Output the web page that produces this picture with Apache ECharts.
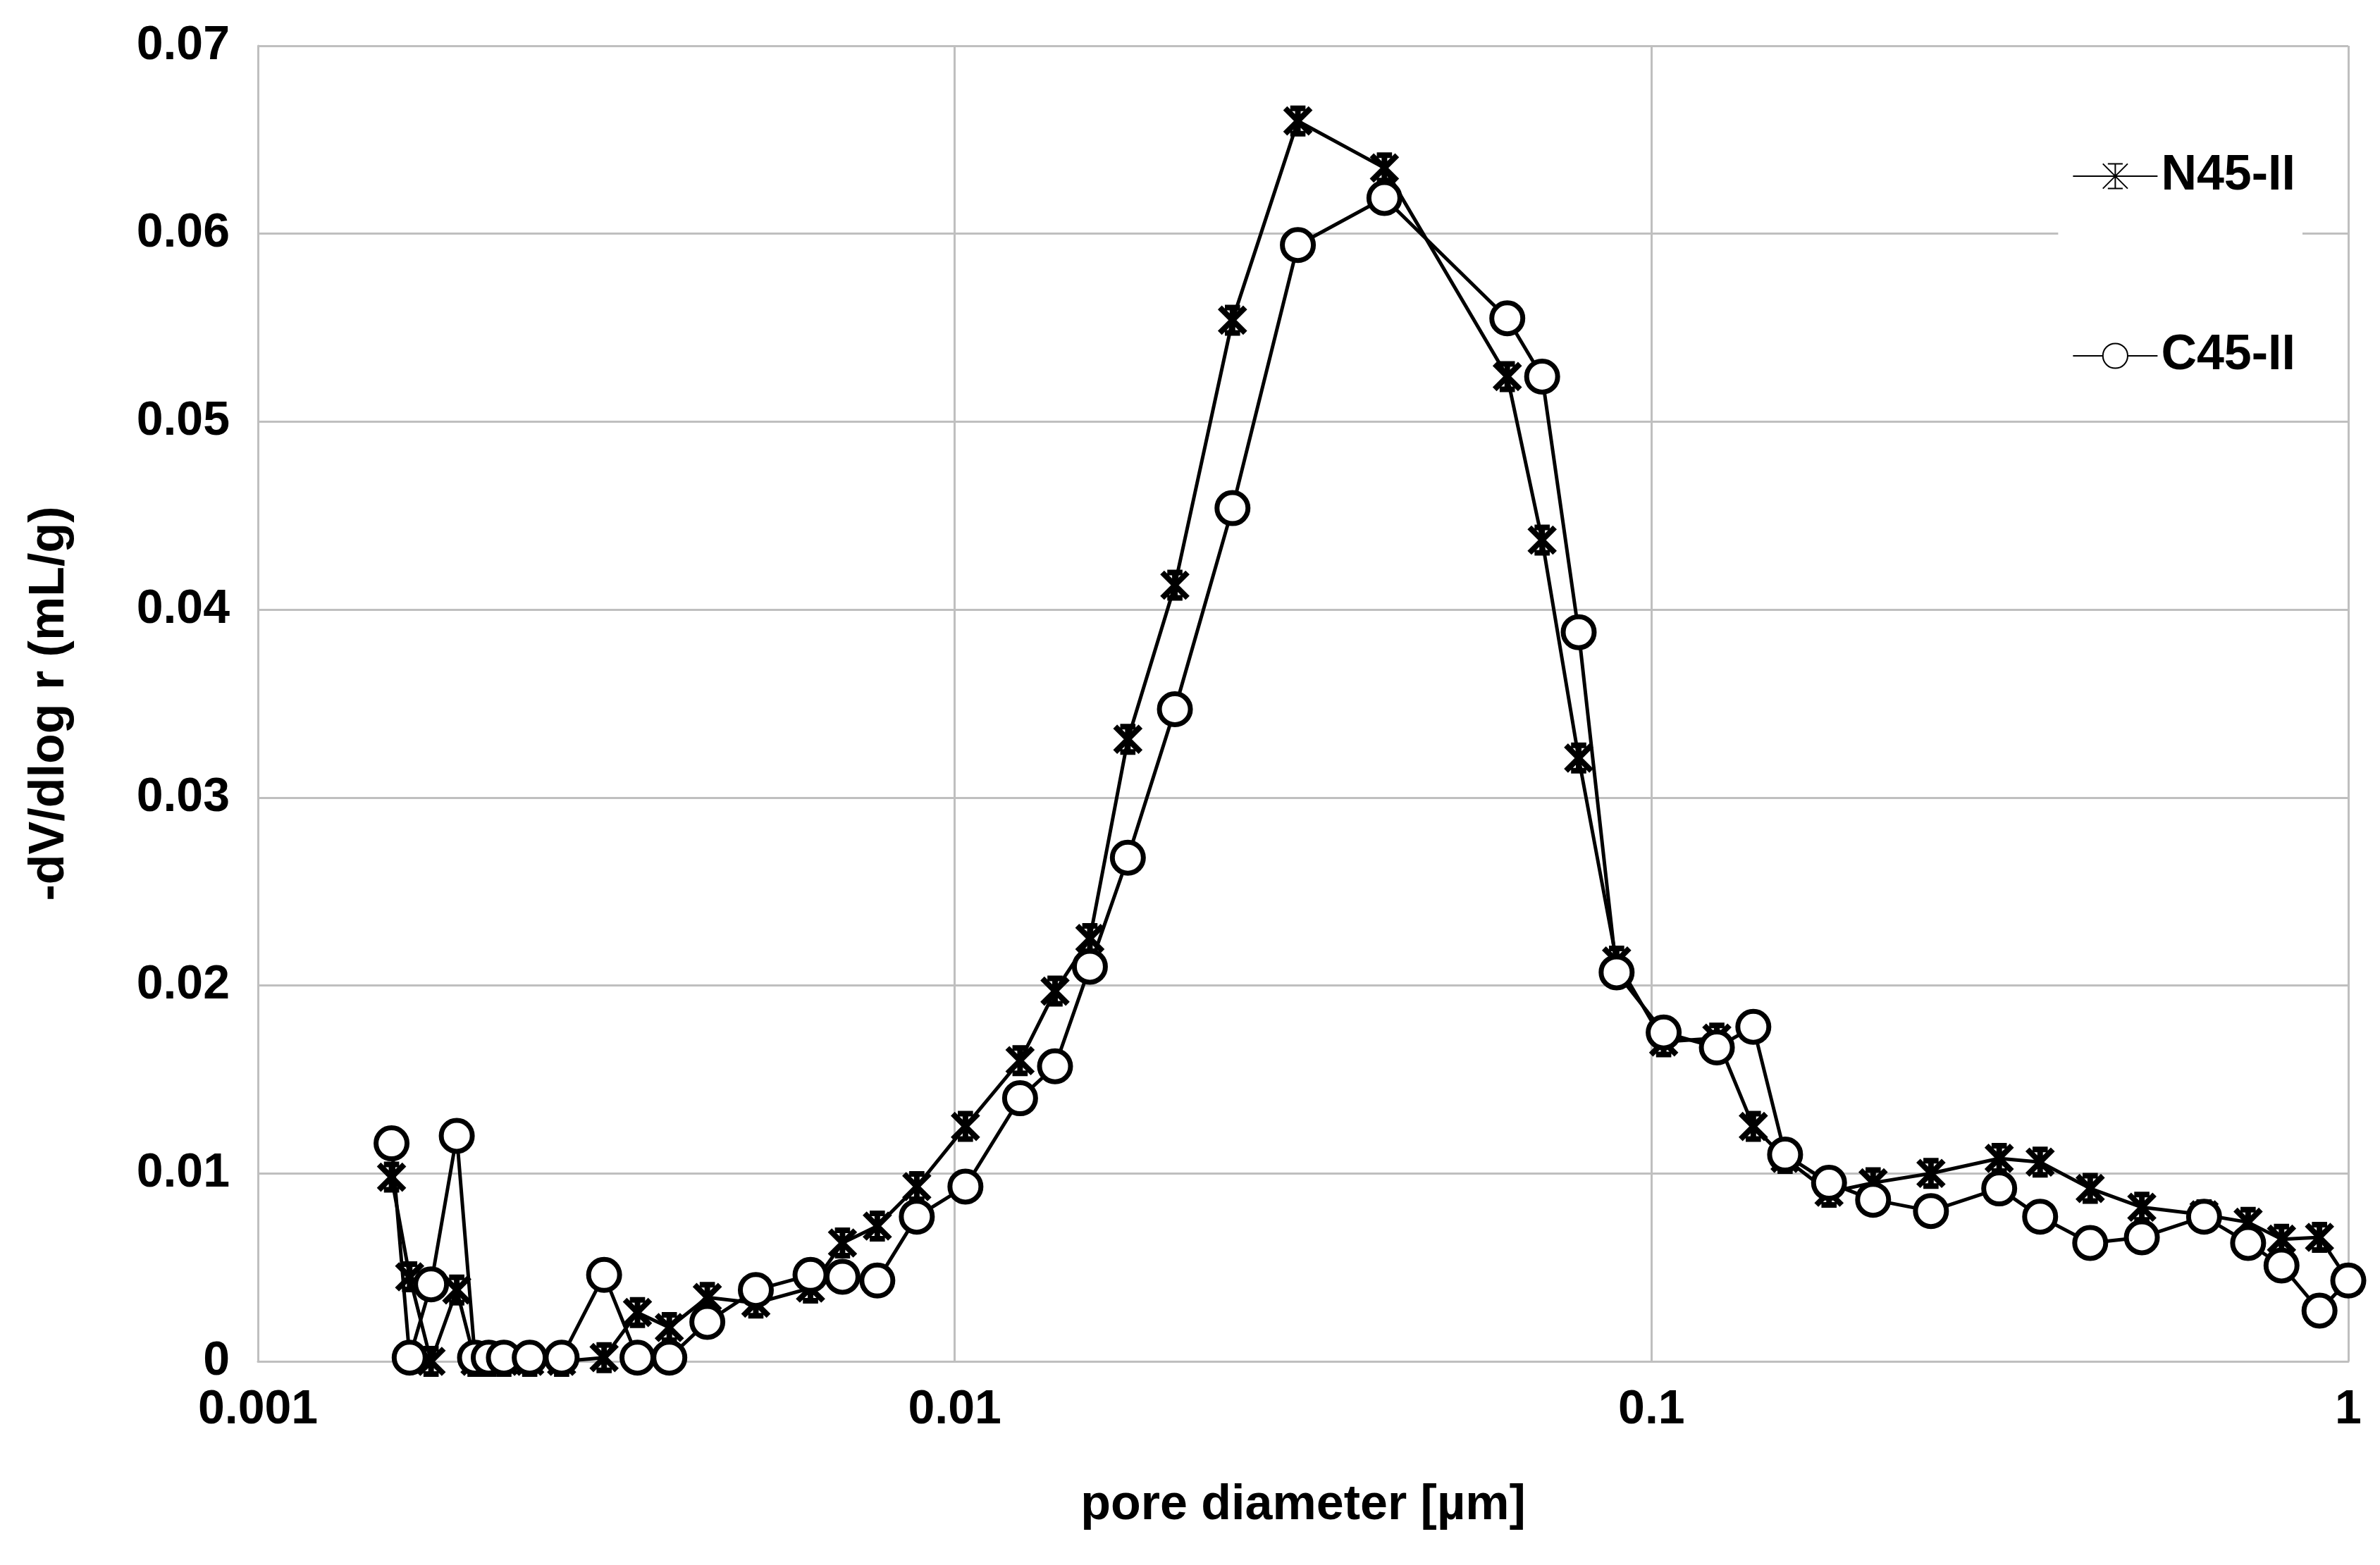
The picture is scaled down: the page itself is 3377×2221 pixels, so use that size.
<!DOCTYPE html>
<html><head><meta charset="utf-8">
<script src="https://cdn.jsdelivr.net/npm/echarts@6/dist/echarts.min.js"></script>
<style>html,body{margin:0;padding:0;background:#fff}#c{width:3377px;height:2221px}</style>
</head><body><div id="c"></div>
<script>
const diameters = [0.001555,0.001651,0.001772,0.001929,0.002049,0.002144,0.002254,0.002455,0.002728,0.003139,0.003505,0.003894,0.004415,0.005183,0.006209,0.006901,0.007743,0.008822,0.01036,0.01241,0.01393,0.01563,0.01772,0.02070,0.02504,0.03108,0.04137,0.06209,0.06967,0.07861,0.08911,0.1041,0.1241,0.1400,0.1555,0.1798,0.2080,0.2518,0.3155,0.3612,0.4262,0.5055,0.6209,0.7182,0.8020,0.9093,1.0];
const n45 = [0.0098,0.0045,0.0000,0.0038,0.0000,0.0000,0.0000,0.0000,0.0000,0.0002,0.0026,0.0018,0.0034,0.0031,0.0039,0.0063,0.0072,0.0093,0.0125,0.0160,0.0197,0.0225,0.0331,0.0413,0.0554,0.0660,0.0635,0.0524,0.0437,0.0321,0.0213,0.0170,0.0172,0.0125,0.0108,0.0090,0.0095,0.0100,0.0108,0.0106,0.0092,0.0082,0.0078,0.0074,0.0065,0.0066,0.0043];
const c45 = [0.0116,0.0002,0.0041,0.0120,0.0002,0.0002,0.0002,0.0002,0.0002,0.0046,0.0002,0.0002,0.0021,0.0038,0.0046,0.0045,0.0043,0.0077,0.0093,0.0140,0.0157,0.0210,0.0268,0.0347,0.0454,0.0594,0.0619,0.0555,0.0524,0.0388,0.0207,0.0175,0.0167,0.0178,0.0110,0.0095,0.0086,0.0080,0.0092,0.0077,0.0063,0.0066,0.0077,0.0063,0.0051,0.0027,0.0043];
const xTicks = ['0.001','0.01','0.1','1'];
const font = 'Liberation Sans, Arial, sans-serif';
const star = 'path://M0,0L10,10M10,0L0,10M5,0L5,10M2,0L8,0M2,10L8,10';
const chart = echarts.init(document.getElementById('c'));
chart.setOption({
  backgroundColor:'#fff',
  animation:false,
  grid:{left:366,right:45,top:65,bottom:289,containLabel:false},
  legend:{orient:'vertical',right:110,top:195,itemGap:185,itemWidth:120,itemHeight:44,
    backgroundColor:'#fff',padding:[20,10,20,20],
    textStyle:{fontFamily:font,fontWeight:'bold',fontSize:70,color:'#000'},
    data:['N45-II','C45-II']},
  xAxis:{type:'log',logBase:10,min:0.001,max:1,
    name:'pore diameter [µm]',nameLocation:'middle',nameGap:170,
    nameTextStyle:{fontFamily:font,fontWeight:'bold',fontSize:70,color:'#000'},
    axisLine:{show:true,lineStyle:{color:'#bfbfbf',width:3}},
    axisTick:{show:false},minorTick:{show:false},
    axisLabel:{fontFamily:font,fontWeight:'bold',fontSize:68,color:'#000',margin:35,
      formatter:v=>{const s=xTicks.find(t=>Math.abs(+t-v)/v<1e-6);return s||'';}},
    splitLine:{show:true,lineStyle:{color:'#bfbfbf',width:3}}},
  yAxis:{type:'value',min:0,max:0.07,interval:0.01,
    name:'-dV/dlog r (mL/g)',nameLocation:'middle',nameGap:260,
    nameTextStyle:{fontFamily:font,fontWeight:'bold',fontSize:70,color:'#000'},
    axisLine:{show:true,lineStyle:{color:'#bfbfbf',width:3}},
    axisTick:{show:false},
    axisLabel:{fontFamily:font,fontWeight:'bold',fontSize:68,color:'#000',margin:40,
      formatter:v=>v===0?'0':v.toFixed(2)},
    splitLine:{show:true,lineStyle:{color:'#bfbfbf',width:3}}},
  series:[
    {name:'N45-II',type:'line',data:diameters.map((d,i)=>[d,n45[i]]),
     symbol:star,symbolSize:36,
     lineStyle:{color:'#000',width:5},
     itemStyle:{color:'#000',borderColor:'#000',borderWidth:8}},
    {name:'C45-II',type:'line',data:diameters.map((d,i)=>[d,c45[i]]),
     symbol:'circle',symbolSize:44,
     lineStyle:{color:'#000',width:5},
     itemStyle:{color:'#fff',borderColor:'#000',borderWidth:7}}
  ]
});
</script></body></html>
